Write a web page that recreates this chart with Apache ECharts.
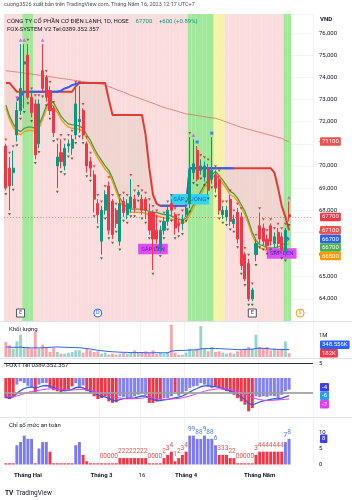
<!DOCTYPE html>
<html>
<head>
<meta charset="utf-8">
<script src="https://cdn.jsdelivr.net/npm/echarts@6.0.0/dist/echarts.min.js"></script>
<style>
html,body{margin:0;padding:0;background:#ffffff;}
#chart{width:359px;height:500px;}
</style>
</head>
<body>
<div id="chart"></div>
<script>
// ---------- categories (trading days) ----------
const dates = [
'2023-01-17','2023-01-18','2023-01-19','2023-01-27','2023-01-30','2023-01-31',
'2023-02-01','2023-02-02','2023-02-03','2023-02-06','2023-02-07','2023-02-08','2023-02-09','2023-02-10',
'2023-02-13','2023-02-14','2023-02-15','2023-02-16','2023-02-17','2023-02-20','2023-02-21','2023-02-22',
'2023-02-23','2023-02-24','2023-02-27','2023-02-28',
'2023-03-01','2023-03-02','2023-03-03','2023-03-06','2023-03-07','2023-03-08','2023-03-09','2023-03-10',
'2023-03-13','2023-03-14','2023-03-15','2023-03-16','2023-03-17','2023-03-20','2023-03-21','2023-03-22',
'2023-03-23','2023-03-24','2023-03-27','2023-03-28','2023-03-29','2023-03-30','2023-03-31',
'2023-04-03','2023-04-04','2023-04-05','2023-04-06','2023-04-07','2023-04-10','2023-04-11','2023-04-12',
'2023-04-13','2023-04-14','2023-04-17','2023-04-18','2023-04-19','2023-04-20','2023-04-21','2023-04-24',
'2023-04-25','2023-04-26','2023-04-27','2023-04-28',
'2023-05-04','2023-05-05','2023-05-08','2023-05-09','2023-05-10','2023-05-11','2023-05-12','2023-05-15','2023-05-16',
'2023-05-17','2023-05-18','2023-05-19','2023-05-22','2023-05-23','2023-05-24'
];
const xLabels = {'2023-02-01':'Tháng Hai','2023-03-01':'Tháng 3','2023-03-16':'16','2023-04-03':'Tháng 4','2023-05-04':'Tháng Năm'};

// ---------- price (VND) ----------
const openP = [70900,69900,69700,71400,72500,74600,75000,73100,72800,71000,
74300,74000,73400,72600,70000,70600,70000,70900,70800,71400,
72000,72500,71000,70200,69600,68300,66600,68000,69100,68400,
68000,66600,68400,67800,68100,68500,68700,68500,68500,67900,
67900,67100,66300,67100,67500,68300,67800,67400,67400,67800,
68300,69700,70700,69800,69500,69900,69400,69600,69400,67800,
67700,68500,67400,67900,67700,66000,65600,64000,66000,67300,
67200,66700,67300,66500,67000,66800,66100,67800];
const closeP = [69000,69100,69900,72500,73500,74700,73100,72400,70500,72800,
73500,73100,72500,71500,70400,70200,70800,71000,71200,72800,
72100,71400,70000,69900,68500,67800,68000,68700,67100,66900,
67400,68300,67900,68300,68600,68100,68800,68000,68000,67100,
66700,66700,67100,67500,68000,68000,67200,67300,67600,68100,
69800,70100,69400,70000,70000,68900,69800,69000,68000,68000,
68000,67500,67600,66700,65500,64900,64000,64400,66500,66700,
66600,66400,66600,66800,66500,66200,67100,67700];
const lowP = [68900,68000,69100,71100,72300,72600,73000,72200,70300,70800,
73300,72900,72300,71300,69000,69900,69800,70600,70500,71200,
71500,71200,69700,69500,67900,67400,66000,67800,66900,66700,
67200,66400,67700,67600,67900,67900,68600,67800,67600,66900,
65300,66500,66100,66900,67300,67700,66900,67000,67100,67700,
68100,69400,69300,69600,69300,68700,69200,68800,67800,67600,
67500,67300,67200,66500,65300,64800,63900,63900,65700,66500,
66400,66200,66400,66300,66300,66000,65900,67500];
const highP = [71000,70400,70700,72900,75500,75500,75500,73300,73000,73000,
75500,74100,73600,72700,71000,71200,71000,71200,71400,73600,
73600,72600,71100,70400,69800,68500,68200,68900,69300,68500,
68100,68500,68600,68500,69400,68700,68900,68700,68600,68300,
68000,67800,67300,67700,68200,68500,67900,67600,67800,68200,
71300,71200,70900,70300,70200,70100,71300,69800,69600,68200,
68200,68700,67800,68100,67900,66100,65800,64500,66700,67900,
67400,66900,67400,67000,67200,67000,67200,68400];

// ---------- main-pane indicator lines ----------
const maLong = [74300,74280,74260,74240,74220,74190,74170,74150,74120,74100,
74080,74050,74030,74000,73980,73950,73930,73910,73880,73860,
73830,73810,73790,73760,73740,73720,73700,73640,73580,73520,
73450,73390,73330,73260,73190,73130,73070,73010,72950,72890,
72830,72770,72700,72640,72590,72550,72500,72450,72400,72350,
72330,72300,72280,72250,72220,72200,72170,72150,72100,72040,
71980,71920,71860,71800,71740,71700,71650,71610,71560,71520,
71470,71430,71380,71340,71290,71250,71150,71100];
const stopLine = [73750,73750,73550,
73350,73350,73350,73350,73350,73350,73350,73350,73350,73350,73350,73350,73350,73350,73350,73350,
73600,
73750,73750,73750,73750,73750,73750,73750,73750,
73000,
72300,72300,72300,72300,72300,72300,72300,72300,72300,
71400,69900,68700,68300,
68200,68200,68200,68200,68200,68200,68200,68200,
69900,69900,69900,69900,69900,69900,69900,69900,69900,69900,69900,69900,69900,69900,69900,69900,69900,69900,69900,69900,69900,69900,69900,
69700,69000,68200,67700,67100];
const trailLine = [null,null,null,
72950,73150,
73350,73350,73350,73350,73350,73350,73350,73350,73350,73350,
73400,73500,73550,73650,73700,73750,
null,null,null,null,null,null,null,null,null,null,null,null,null,null,null,null,null,null,null,null,null,
68200,68200,68200,68200,68200,68200,68200,68200,
69900,69900,69900,69900,69900,69900,69900,69900,69900,69900,69900,69900,69900,
null,null,null,null,null,null,null,null,null,null,null,null,null,
66800,66700];
const emaSlow = [72600,72100,71750,71500,71400,71550,71600,71600,71550,71700,
72100,72550,72800,72700,72400,72100,71900,71750,71700,71700,
71650,71550,71250,71000,70650,70350,70100,69850,69650,69300,
68850,68400,68150,67950,67900,67900,67900,67900,67850,67800,
67750,67750,67700,67650,67650,67600,67500,67450,67400,67500,
67800,68100,68400,68700,69000,69200,69450,69600,69400,69200,
68950,68700,68600,68400,68100,67800,67350,66850,66500,66300,
66250,66150,66150,66150,66200,66250,66400,66500];
const emaFast = [72750,72250,71900,71650,71550,71700,71750,71750,71700,71850,
72250,72700,72950,72850,72550,72250,72050,71900,71850,71850,
71800,71700,71400,71150,70800,70500,70250,70000,69800,69450,
69000,68550,68300,68100,68050,68050,68050,68050,68000,67950,
67900,67900,67850,67800,67800,67750,67650,67600,67550,67650,
67950,68250,68550,68850,69150,69350,69600,69750,69550,69350,
69100,68850,68750,68550,68250,67950,67500,67000,66650,66450,
66400,66300,66300,66300,66350,66400,66550,66700];

// ---------- signals / zones ----------
const zoneGreen = [[5,7],[50,56],[76,77]];
const zoneYellow = [[57,59]];
const zonePink = [[0,4],[8,49],[60,75]];
const purpleTops = [4,5,10,51,77];
const blueTops = [52,56];
const signalLabels = [
  {date:'2023-03-21', price:66250, text:'SẮP LÊN', kind:'up'},
  {date:'2023-04-04', price:68500, text:'SẮP XUỐNG', kind:'down'},
  {date:'2023-05-12', price:66050, text:'SẮP LÊN', kind:'up'}
];
const events = [
  {date:'2023-01-30', type:'E'},
  {date:'2023-02-28', type:'D'},
  {date:'2023-04-27', type:'E'},
  {date:'2023-05-19', type:'$'}
];

// ---------- volume ----------
const volume = [714000,556000,397000,746000,1063000,476000,476000,397000,1190000,397000,
587000,476000,238000,429000,238000,159000,159000,206000,238000,317000,
317000,206000,429000,317000,238000,270000,159000,206000,111000,159000,
111000,159000,206000,159000,206000,317000,238000,206000,270000,206000,
317000,159000,206000,159000,238000,1540000,206000,111000,111000,206000,
397000,317000,397000,1476000,397000,270000,476000,238000,270000,206000,
159000,206000,159000,270000,317000,397000,476000,397000,1063000,476000,
397000,476000,317000,397000,317000,397000,746000,182000];
const volumeMA = [480000,470000,460000,460000,470000,450000,440000,430000,440000,430000,
440000,450000,460000,470000,480000,470000,460000,460000,450000,450000,
440000,420000,400000,380000,350000,320000,300000,280000,260000,250000,
240000,230000,220000,220000,210000,210000,210000,210000,200000,200000,
200000,210000,200000,200000,200000,280000,300000,310000,310000,320000,
330000,340000,340000,390000,400000,400000,410000,400000,400000,390000,
380000,370000,360000,350000,350000,360000,370000,370000,410000,420000,
410000,400000,380000,370000,360000,350000,360000,348556];

// ---------- FOX1 oscillator ----------
const foxRed = [-6.7,-7.0,-6.1,
null,null,null,null,null,
-4.8,
null,null,null,
-3.3,-4.1,-4.4,-4.8,-4.4,-3.9,-2.8,
null,null,null,
-4.4,-5.0,-6.1,-7.0,-6.7,-6.1,-7.8,-8.3,-8.1,
null,null,null,null,null,null,null,null,
-8.3,-8.3,-7.8,-7.2,
null,null,null,
-4.8,
null,null,null,null,null,null,null,null,null,null,
-2.8,-3.3,-3.9,-4.4,-4.8,-5.6,-6.7,-7.8,-8.9,-11.1,-10.0,
null,null,null,null,null,null,null,null,null,null];
const foxBlue = [null,null,null,
-2.2,-1.1,-1.7,-2.6,-3.0,
null,
-2.2,-1.7,-1.7,
null,null,null,null,null,null,null,
-1.7,-2.8,-2.5,
null,null,null,null,null,null,null,null,null,
-6.1,-6.3,-6.7,-6.7,-6.1,-5.6,-5.2,-5.6,
null,null,null,null,
-6.7,-6.7,-6.1,
null,
-5.9,-5.2,-4.4,-3.3,-2.8,-2.6,-1.7,-2.2,-2.8,-3.3,
null,null,null,null,null,null,null,null,null,null,null,
-6.1,-6.3,-6.1,-6.3,-5.9,-6.1,-6.7,-5.6,-4.4,-3.9];
const foxSignal = [-6.5,-6.6,-6.3,-5.2,-4.2,-3.5,-3.1,-3.0,-3.4,-3.0,
-2.6,-2.5,-2.8,-3.2,-3.6,-4.0,-4.2,-4.1,-3.8,-3.2,
-3.0,-3.3,-3.9,-4.4,-5.0,-5.7,-6.1,-6.3,-6.8,-7.4,
-7.6,-7.2,-6.9,-6.8,-6.8,-6.6,-6.3,-6.0,-6.0,-6.6,
-7.2,-7.5,-7.5,-7.3,-7.1,-6.9,-6.6,-6.4,-6.0,-5.4,
-4.7,-4.0,-3.5,-2.9,-2.6,-2.6,-2.8,-2.9,-3.1,-3.5,
-3.9,-4.3,-4.8,-5.5,-6.3,-7.2,-8.4,-9.0,-8.5,-8.0,
-7.6,-7.4,-7.1,-6.9,-7.0,-6.7,-6.3,-5.9];
const foxSlow = [-6.0,-6.1,-6.2,-6.0,-5.6,-5.2,-4.8,-4.5,-4.3,-4.1,
-3.9,-3.7,-3.6,-3.6,-3.7,-3.8,-3.9,-4.0,-4.0,-3.9,
-3.8,-3.8,-3.9,-4.1,-4.4,-4.7,-5.0,-5.3,-5.7,-6.1,
-6.5,-6.7,-6.8,-6.9,-6.9,-6.9,-6.8,-6.7,-6.5,-6.5,
-6.6,-6.8,-7.0,-7.1,-7.1,-7.0,-6.9,-6.8,-6.6,-6.3,
-6.0,-5.6,-5.2,-4.8,-4.4,-4.1,-3.9,-3.7,-3.6,-3.6,
-3.7,-3.9,-4.1,-4.4,-4.8,-5.3,-5.9,-6.5,-6.9,-7.2,
-7.4,-7.5,-7.5,-7.4,-7.3,-7.2,-7.1,-7.0];
const foxLevelTop = 5;
const foxLevelMid = -5;

// ---------- Chỉ số mức an toàn ----------
const safeRed = [0,0,0,
null,null,null,null,null,
0,
null,null,null,
4,
0,0,0,0,0,0,
null,null,
3,1,
0,0,0,0,0,0,0,0,
2,2,2,2,2,2,2,2,
0,0,0,0,
2,3,4,1,2,3,4,
null,null,null,null,null,null,null,null,
3,3,3,2,2,
0,0,0,0,0,
3,
4,4,4,4,4,4,4,
null,null];
const safeBlue = [null,null,null,
6,7,9,8,8,
null,
5,7,7,
null,null,null,null,null,null,null,
6,7,
null,null,null,null,null,null,null,null,null,null,null,null,null,null,null,null,null,null,null,null,null,null,null,null,null,null,null,null,null,
9,9,8,8,9,8,8,6,
null,null,null,null,null,null,null,null,null,null,null,null,null,null,null,null,null,null,
7,8];
const safeLabelFrom = 26;

// ================= build chart =================
const FONT = 'Roboto, "Noto Sans", "DejaVu Sans", sans-serif';
const UP = '#089981', DOWN = '#f23645';
const N = openP.length;
const chart = echarts.init(document.getElementById('chart'), null, {renderer:'canvas'});

const candleData = openP.map((o,i)=>[o, closeP[i], lowP[i], highP[i]]);
const isUp = i => closeP[i] >= openP[i];
function inZones(z, i){ return z.some(([a,b]) => i >= a && i <= b); }
const bandData = dates.map((d,i) => {
  let c = null;
  if (inZones(zoneGreen, i)) c = '#a2e89b';
  else if (inZones(zoneYellow, i)) c = '#f6f3a8';
  else if (inZones(zonePink, i)) c = '#fbdcdc';
  return c ? {value:1, itemStyle:{color:c}} : null;
});
const cloudDiff = stopLine.map((v,i) => v - emaSlow[i]);

const gridL = 4, gridR = 46;
const grids = [
  {left:gridL, right:gridR, top:14, height:307},
  {left:gridL, right:gridR, top:321, height:36},
  {left:gridL, right:gridR, top:358.5, height:57},
  {left:gridL, right:gridR, top:418, height:46.5}
];
const splitCol = 'rgba(42,46,57,0.06)';
function xAx(gi, showLabel){
  return {
    type:'category', gridIndex:gi, data:dates, boundaryGap:true,
    axisLine:{show:false}, axisTick:{show:false},
    axisLabel: showLabel ? {
      show:true,
      interval:(idx, val) => xLabels[val] !== undefined,
      formatter:(val) => xLabels[val] === '16' ? '{n|16}' : '{b|' + xLabels[val] + '}',
      rich:{
        b:{fontWeight:'bold', fontSize:6, color:'#131722', fontFamily:FONT},
        n:{fontSize:6, color:'#131722', fontFamily:FONT}
      },
      margin:8
    } : {show:false},
    splitLine:{show:true, interval:(idx, val) => xLabels[val] !== undefined, lineStyle:{color:splitCol, width:1}}
  };
}
const yLab = {fontSize:6, color:'#131722', fontFamily:FONT, margin:6};
const yAxes = [
  {gridIndex:0, type:'value', position:'right', min:63000, max:76860, interval:1000,
   axisLine:{show:false}, axisTick:{show:false},
   axisLabel:Object.assign({showMinLabel:false, showMaxLabel:false}, yLab),
   splitLine:{lineStyle:{color:splitCol}}},
  {gridIndex:0, type:'value', min:0, max:1, show:false},
  {gridIndex:1, type:'value', position:'right', min:0, max:1714000,
   axisLine:{show:false}, axisTick:{show:false},
   axisLabel:Object.assign({customValues:[1000000], formatter:() => '1M'}, yLab),
   splitLine:{show:false}},
  {gridIndex:2, type:'value', position:'right', min:-12.5, max:6.5,
   axisLine:{show:false}, axisTick:{show:false},
   axisLabel:Object.assign({customValues:[foxLevelTop]}, yLab),
   splitLine:{show:false}},
  {gridIndex:3, type:'value', position:'right', min:0, max:14.5,
   axisLine:{show:false}, axisTick:{show:false},
   axisLabel:Object.assign({customValues:[0,5,10]}, yLab),
   splitLine:{show:false}}
];

const lineBase = {type:'line', symbol:'none', silent:true, xAxisIndex:0, yAxisIndex:0};
const eventPrice = 63360;
const series = [
  {type:'bar', xAxisIndex:0, yAxisIndex:1, data:bandData, barWidth:'104%', silent:true, z:0, itemStyle:{borderWidth:0}},
  Object.assign({}, lineBase, {data:maLong, lineStyle:{color:'rgba(210,110,100,0.75)', width:1}, z:2}),
  Object.assign({}, lineBase, {data:emaSlow, stack:'cloud', lineStyle:{opacity:0, width:0}, z:1}),
  Object.assign({}, lineBase, {data:cloudDiff, stack:'cloud', lineStyle:{opacity:0, width:0},
    areaStyle:{color:'rgba(175,170,135,0.22)'}, z:1}),
  Object.assign({}, lineBase, {data:stopLine, lineStyle:{color:'#e53935', width:2}, z:3}),
  Object.assign({}, lineBase, {data:emaSlow, lineStyle:{color:'#ff9800', width:1.3}, z:3}),
  Object.assign({}, lineBase, {data:emaFast, lineStyle:{color:'#43a047', width:1.3}, z:3}),
  Object.assign({}, lineBase, {data:trailLine, lineStyle:{color:'#2962ff', width:2}, z:4}),
  {
    type:'candlestick', xAxisIndex:0, yAxisIndex:0, data:candleData, barWidth:'70%', z:5, silent:true,
    itemStyle:{color:UP, color0:DOWN, borderColor:UP, borderColor0:DOWN, borderWidth:1},
    markLine:{silent:true, symbol:['none','none'], label:{show:false},
      lineStyle:{color:DOWN, type:[1,2], width:1, opacity:0.55},
      data:[{yAxis:closeP[N-1]}]},
    markPoint:{silent:true, data:
      signalLabels.map(s => ({
        coord:[s.date, s.price], symbol:'rect', symbolSize:1, itemStyle:{color:'rgba(0,0,0,0)'},
        label:{show:true, position:'inside', formatter:s.text, fontSize:6, fontFamily:FONT,
          color: s.kind === 'up' ? '#4a24d6' : '#1565c0',
          backgroundColor: s.kind === 'up' ? '#e34cf4' : '#35d4ea',
          padding:[2.5,3,2,3]}
      })).concat(events.map(e => {
        const col = e.type === 'D' ? '#2962ff' : (e.type === '$' ? '#ff9800' : '#50535e');
        return {
          coord:[e.date, eventPrice], symbol: e.type === 'E' ? 'rect' : 'circle', symbolSize: 8,
          itemStyle:{color:'#ffffff', borderColor:col, borderWidth:1},
          label:{show:true, position:'inside', formatter:e.type, fontSize:5.5, color:col, fontFamily:FONT}
        };
      }))
    }
  },
  {type:'scatter', xAxisIndex:0, yAxisIndex:0, silent:true, z:6,
   data: highP.map((h,i) => (purpleTops.includes(i) || blueTops.includes(i)) ? null : h),
   symbol:'triangle', symbolRotate:180, symbolSize:[3,2.5], symbolOffset:[0,-4], itemStyle:{color:'#c62828'}},
  {type:'scatter', xAxisIndex:0, yAxisIndex:0, silent:true, z:6,
   data: highP.map((h,i) => purpleTops.includes(i) ? h : null),
   symbol:'triangle', symbolSize:[4,3.5], symbolOffset:[0,-4], itemStyle:{color:'#c25be8'}},
  {type:'scatter', xAxisIndex:0, yAxisIndex:0, silent:true, z:6,
   data: highP.map((h,i) => blueTops.includes(i) ? h : null),
   symbol:'rect', symbolSize:3, symbolOffset:[0,-4], itemStyle:{color:'#2962ff'}},
  {type:'scatter', xAxisIndex:0, yAxisIndex:0, silent:true, z:6,
   data: lowP, symbol:'triangle', symbolRotate:180, symbolSize:[3,2.5], symbolOffset:[0,4], itemStyle:{color:'#1b5e20'}},
  // volume
  {type:'bar', xAxisIndex:1, yAxisIndex:2, silent:true, barWidth:'78%',
   data: volume.map((v,i) => ({value:v, itemStyle:{color: isUp(i) ? 'rgba(8,153,129,0.42)' : 'rgba(242,54,69,0.45)'}}))},
  {type:'line', xAxisIndex:1, yAxisIndex:2, symbol:'none', silent:true, data:volumeMA, lineStyle:{color:'#2962ff', width:1}},
  // FOX
  {type:'bar', xAxisIndex:2, yAxisIndex:3, silent:true, barWidth:'82%', barGap:'-100%', data:foxRed, itemStyle:{color:'#f23645'}},
  {type:'bar', xAxisIndex:2, yAxisIndex:3, silent:true, barWidth:'82%', barGap:'-100%', data:foxBlue, itemStyle:{color:'#8282f4'}},
  {type:'line', xAxisIndex:2, yAxisIndex:3, symbol:'none', silent:true, data:foxSignal, lineStyle:{color:'#2b5cf0', width:1.3}, z:3},
  {type:'line', xAxisIndex:2, yAxisIndex:3, symbol:'none', silent:true, data:foxSlow, lineStyle:{color:'#e040fb', width:1}, z:4,
   markLine:{silent:true, symbol:['none','none'], label:{show:false}, data:[
     {yAxis:foxLevelTop, lineStyle:{color:'#2a2e39', width:1, type:'solid'}},
     {yAxis:foxLevelMid, lineStyle:{color:'#9e9e9e', width:2, type:'solid', opacity:0.85}}
   ]}},
  // safety index
  {type:'bar', xAxisIndex:3, yAxisIndex:4, silent:true, barWidth:'80%', barGap:'-100%', barMinHeight:1.2,
   data:safeRed, itemStyle:{color:'#f23645'},
   label:{show:true, position:'top', distance:3, fontSize:6.5, fontFamily:FONT, color:'#e0524d',
     formatter:p => p.dataIndex >= safeLabelFrom ? String(p.value) : ''}},
  {type:'bar', xAxisIndex:3, yAxisIndex:4, silent:true, barWidth:'80%', barGap:'-100%',
   data:safeBlue, itemStyle:{color:'#7b7bf0'},
   label:{show:true, position:'top', distance:3, fontSize:6.5, fontFamily:FONT, color:'#4f7fe0',
     formatter:p => p.dataIndex >= safeLabelFrom ? String(p.value) : ''}}
];

chart.setOption({
  animation:false,
  backgroundColor:'#ffffff',
  grid:grids,
  xAxis:[xAx(0,false), xAx(1,false), xAx(2,false), xAx(3,true)],
  yAxis:yAxes,
  series:series
});

// ---------- right-edge value tags & static texts ----------
function layoutTags(items, yAxisIndex, anchorKey, gap){
  const pts = items.map(it => Object.assign({}, it, {y: chart.convertToPixel({yAxisIndex:yAxisIndex}, it.v)}));
  pts.sort((a,b) => a.y - b.y);
  const a = pts.findIndex(p => p.key === anchorKey);
  for (let i = a + 1; i < pts.length; i++) pts[i].y = Math.max(pts[i].y, pts[i-1].y + gap);
  for (let i = a - 1; i >= 0; i--) pts[i].y = Math.min(pts[i].y, pts[i+1].y - gap);
  return pts;
}
function tag(p){
  return {type:'text', x:320, y:p.y, z:100, silent:true,
    style:{text:p.text, fill:'#ffffff', font:'6px ' + FONT, verticalAlign:'middle', align:'left',
      backgroundColor:p.bg, padding:[1.5,2,1,2], borderRadius:1}};
}
const fmtK = v => (v/1000) + 'K';
const mainTags = layoutTags([
  {key:'ma', v:maLong[N-1], text:String(maLong[N-1]), bg:'#ef5350'},
  {key:'px', v:closeP[N-1], text:String(closeP[N-1]), bg:'#f23645'},
  {key:'stop', v:stopLine[N-1], text:String(stopLine[N-1]), bg:'#ef5350'},
  {key:'trail', v:trailLine[N-1], text:String(trailLine[N-1]), bg:'#2962ff'},
  {key:'fast', v:emaFast[N-1], text:String(emaFast[N-1]), bg:'#4caf50'},
  {key:'slow', v:emaSlow[N-1], text:String(emaSlow[N-1]), bg:'#ff9800'}
], 0, 'stop', 8.5);
const volTags = layoutTags([
  {key:'ma', v:volumeMA[N-1], text:fmtK(volumeMA[N-1]), bg:'#2962ff'},
  {key:'v', v:volume[N-1], text:fmtK(volume[N-1]), bg:'#f23645'}
], 2, 'v', 8.5);
const foxTags = layoutTags([
  {key:'h', v:foxBlue[N-1], text:String(Math.round(foxBlue[N-1])), bg:'#3c3cf2'},
  {key:'s', v:foxSignal[N-1], text:String(Math.round(foxSignal[N-1])), bg:'#2e9bf0'},
  {key:'m', v:foxSlow[N-1], text:String(Math.round(foxSlow[N-1])), bg:'#e040fb'}
], 3, 's', 8.5);
const safeTags = layoutTags([
  {key:'b', v:safeBlue[N-1], text:String(safeBlue[N-1]), bg:'#3f3ff0'}
], 4, 'b', 8.5);

const txt = (x, y, text, opts) => ({type:'text', x:x, y:y, silent:true, z:90,
  style:Object.assign({text:text, fill:'#131722', font:'6px ' + FONT, verticalAlign:'middle', align:'left'}, opts || {})});
const sep = y => ({type:'line', silent:true, z:80, shape:{x1:0, y1:y, x2:352, y2:y}, style:{stroke:'#e0e3eb', lineWidth:1}});

const graphics = [
  sep(321.5), sep(358.5), sep(417.5),
  txt(4, 5, 'cuong3526 xuất bản trên TradingView.com, Tháng Năm 16, 2023 12:17 UTC+7', {fill:'#50535e', font:'5.5px ' + FONT}),
  {type:'text', x:7, y:21, silent:true, z:90, style:{
    text:'{t|CÔNG TY CỔ PHẦN CƠ ĐIỆN LẠNH, 1D, HOSE}  {g|67700}  {g|+600 (+0.89%)}',
    verticalAlign:'middle', align:'left',
    rich:{t:{fill:'#131722', font:'6px ' + FONT}, g:{fill:'#089981', font:'6px ' + FONT}}}},
  txt(7, 29, 'FOX-SYSTEM V2 Tel:0389.352.357'),
  txt(320, 19, 'VND', {font:'bold 6px ' + FONT}),
  txt(9, 329, 'Khối lượng'),
  txt(6, 365, 'FOX1 Tel 0389.352.357'),
  txt(9, 425, 'Chỉ số mức an toàn'),
  txt(5, 493, 'TV', {font:'bold 6.5px ' + FONT}),
  txt(16, 493, 'TradingView', {font:'6.5px ' + FONT})
].concat(mainTags.map(tag), volTags.map(tag), foxTags.map(tag), safeTags.map(tag));

chart.setOption({graphic:graphics});
</script>
</body>
</html>
